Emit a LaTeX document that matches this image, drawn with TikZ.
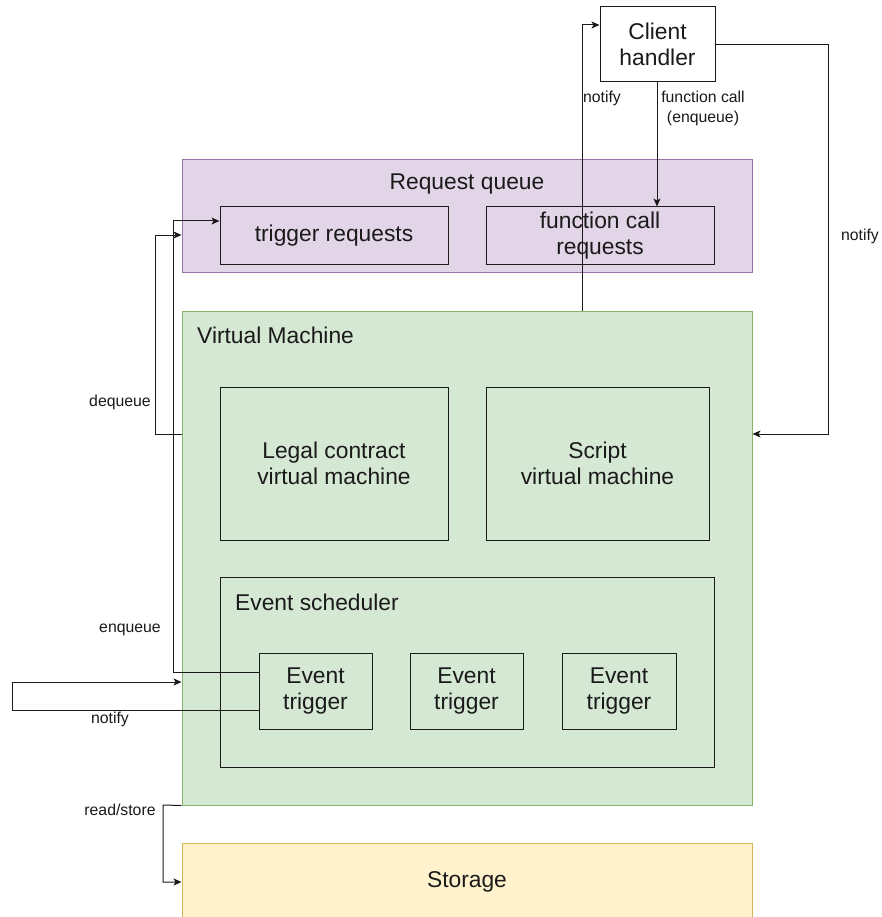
\documentclass[tikz,border=0pt]{standalone}
\usepackage{fontspec}
\setmainfont{Liberation Sans}
\usetikzlibrary{arrows.meta}

\definecolor{qfill}{HTML}{E1D5E7}
\definecolor{qline}{HTML}{9673A6}
\definecolor{vfill}{HTML}{D5E8D4}
\definecolor{vline}{HTML}{82B366}
\definecolor{sfill}{HTML}{FFF2CC}
\definecolor{sline}{HTML}{D6B656}
\definecolor{ink}{HTML}{1A1A1A}

\begin{document}
\begin{tikzpicture}[x=1pt,y=-1pt,
  group/.style={draw, line width=1pt, inner sep=0pt},
  box/.style={draw=ink, line width=1pt, inner sep=0pt, align=center,
    font=\fontsize{22.8}{26}\selectfont, text=ink},
  title/.style={inner sep=0pt, font=\fontsize{22.8}{26}\selectfont, text=ink},
  lbl/.style={inner sep=0pt, align=center, font=\fontsize{15.8}{20}\selectfont, text=ink},
  link/.style={draw=ink, line width=1pt, -{Stealth[length=8pt,width=7pt,inset=2pt]}},
]
\useasboundingbox (0,0) rectangle (882,917);
\clip (0,0) rectangle (882,917);
\fill[white] (0,0) rectangle (882,917);

% client side
\node[box, fill=white, minimum width=115pt, minimum height=75pt] (ch) at (657.5,44.5) {Client\\handler};

% request queue
\node[group, draw=qline, fill=qfill, minimum width=570pt, minimum height=112pt] (rq) at (467,216) {};
\node[title] (rqt) at (467,184) {Request queue};
\node[box, minimum width=228pt, minimum height=57pt] (tr) at (334,235.5) {trigger requests};
\node[box, minimum width=228pt, minimum height=57pt] (fr) at (600,235.5) {function call\\requests};

% virtual machine
\node[group, draw=vline, fill=vfill, minimum width=570pt, minimum height=494pt] (vm) at (467,558) {};
\node[title, anchor=west] (vmt) at (197,335) {Virtual Machine};
\node[box, minimum width=228pt, minimum height=153pt] (lc) at (334,463.5) {Legal contract\\virtual machine};
\node[box, minimum width=223pt, minimum height=153pt] (sv) at (597.5,463.5) {Script\\virtual machine};

% event scheduler
\node[box, minimum width=494pt, minimum height=190pt] (es) at (467,672) {};
\node[title, anchor=west] (est) at (235,602) {Event scheduler};
\node[box, minimum width=113pt, minimum height=76pt] (e1) at (315.5,691) {Event\\trigger};
\node[box, minimum width=113pt, minimum height=76pt] (e2) at (466.5,691) {Event\\trigger};
\node[box, minimum width=114pt, minimum height=76pt] (e3) at (619,691) {Event\\trigger};

% storage
\node[group, draw=sline, fill=sfill, minimum width=570pt, minimum height=77pt] (st) at (467,881.5) {};
\node[title] (stt) at (467,882) {Storage};

% routing points
\coordinate (nt) at (582,25);
\coordinate (fc) at (657,0);
\coordinate (nr) at (828,434);
\coordinate (dqa) at (155,434);
\coordinate (dqb) at (155,235);
\coordinate (eqa) at (173,672);
\coordinate (eqb) at (173,221);
\coordinate (nla) at (12,710);
\coordinate (nlb) at (12,682);
\coordinate (rsa) at (163,805);
\coordinate (rsb) at (163,882);

% connectors
\draw[link] (vm.north -| nt) |- (ch.west |- nt);
\draw[link] (ch.south -| fc) -- (fr.north -| fc);
\draw[link] (ch.east) -| (nr) -- (vm.east |- nr);
\draw[link] (vm.west |- dqa) -- (dqa) -- (dqb) -- (rq.west |- dqb);
\draw[link] (e1.west |- eqa) -- (eqa) -- (eqb) -- (tr.west |- eqb);
\draw[link] (e1.west |- nla) -- (nla) -- (nlb) -- (vm.west |- nlb);
\draw[link] (vm.south west) -- (rsa) -- (rsb) -- (st.west |- rsb);

% connector labels
\node[lbl] (l1) at (602,98) {notify};
\node[lbl] (l2) at (703,108) {function call\\(enqueue)};
\node[lbl] (l3) at (860,236) {notify};
\node[lbl] (l4) at (120,402) {dequeue};
\node[lbl] (l5) at (130,630) {enqueue};
\node[lbl] (l6) at (110,719) {notify};
\node[lbl] (l7) at (120,810) {read/store};
\end{tikzpicture}
\end{document}
